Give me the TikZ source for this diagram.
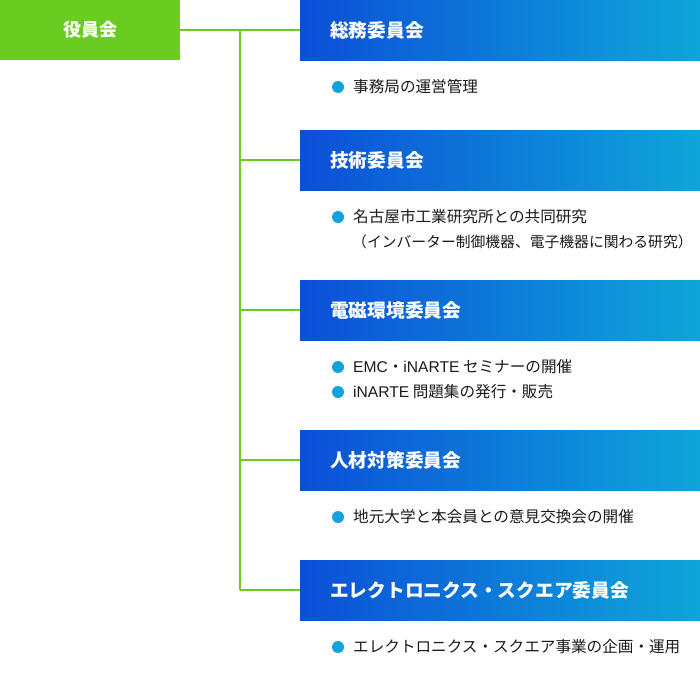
\documentclass[tikz,border=0pt]{standalone}
\usepackage{fontspec}
\setmainfont{Noto Sans CJK JP}
\newfontfamily\lat{Liberation Sans}
\definecolor{rootgreen}{HTML}{6ACC20}
\definecolor{gradL}{HTML}{0C4FD8}
\definecolor{gradR}{HTML}{0EA6D9}
\definecolor{dotblue}{HTML}{12A3DC}
\definecolor{bodytxt}{HTML}{1A1A1A}
\tikzset{
  rootbox/.style={fill=rootgreen, minimum width=180pt, minimum height=60pt, inner sep=0pt, text=white, font=\fontsize{18pt}{20pt}\selectfont\bfseries},
  headbox/.style={left color=gradL, right color=gradR, minimum width=400pt, minimum height=60pt, inner sep=0pt, draw=none},
  headtxt/.style={anchor=west, inner sep=0pt, text=white, font=\fontsize{18.7pt}{20pt}\selectfont\bfseries},
  dotmark/.style={circle, fill=dotblue, minimum size=12pt, inner sep=0pt},
  bodyline/.style={anchor=west, inner sep=0pt, text=bodytxt, font=\fontsize{15.6pt}{17pt}\selectfont},
  link/.style={draw=rootgreen, line width=1.6pt}
}
\begin{document}
\begin{tikzpicture}[x=1pt,y=-1pt]
\useasboundingbox (0,0) rectangle (700,680);
\node[rootbox] (root) at (90,30) {役員会};
\node[headbox] (c1) at (500,30) {};
\node[headbox] (c2) at (500,160) {};
\node[headbox] (c3) at (500,310) {};
\node[headbox] (c4) at (500,460) {};
\node[headbox] (c5) at (500,590) {};
\node[headtxt] (t1) at (330,30) {総務委員会};
\node[headtxt] (t2) at (330,160) {技術委員会};
\node[headtxt] (t3) at (330,310) {電磁環境委員会};
\node[headtxt] (t4) at (330,460) {人材対策委員会};
\node[headtxt] (t5) at (330,590) {エレクトロニクス・スクエア委員会};
\coordinate (j1) at (240,30);
\coordinate (j2) at (240,160);
\coordinate (j3) at (240,310);
\coordinate (j4) at (240,460);
\coordinate (j5) at (240,590);
\draw[link] (root.east) -- (c1.west);
\draw[link] (j1) -- (j5);
\draw[link] (j2) -- (c2.west);
\draw[link] (j3) -- (c3.west);
\draw[link] (j4) -- (c4.west);
\draw[link] (j5) -- (c5.west);
\node[dotmark] (d1) at (338,87) {};
\node[bodyline] (l1) at (353,87) {事務局の運営管理};
\node[dotmark] (d2) at (338,217) {};
\node[bodyline] (l2) at (353,217) {名古屋市工業研究所との共同研究};
\node[bodyline, font=\fontsize{14.8pt}{17pt}\selectfont] (l2b) at (352,242) {（インバーター制御機器、電子機器に関わる研究）};
\node[dotmark] (d3) at (338,367) {};
\node[bodyline] (l3) at (353,367) {{\lat EMC}・{\lat iNARTE} セミナーの開催};
\node[dotmark] (d3b) at (338,392) {};
\node[bodyline] (l3b) at (353,392) {{\lat iNARTE} 問題集の発行・販売};
\node[dotmark] (d4) at (338,517) {};
\node[bodyline] (l4) at (353,517) {地元大学と本会員との意見交換会の開催};
\node[dotmark] (d5) at (338,647) {};
\node[bodyline] (l5) at (353,647) {エレクトロニクス・スクエア事業の企画・運用};
\end{tikzpicture}
\end{document}
